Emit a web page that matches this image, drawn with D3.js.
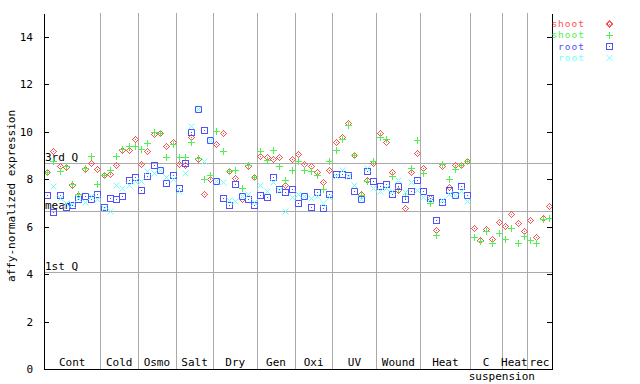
<!DOCTYPE html>
<html>
<head>
<meta charset="utf-8">
<script src="https://cdn.jsdelivr.net/npm/d3@7"></script>
<style>
  body { margin: 0; background: #fff; }
  text { font-family: "DejaVu Sans Mono", monospace; font-size: 11px; }
</style>
</head>
<body>
<div id="chart"></div>
<script>
// sample groups along the x axis and how many time points each holds
var groups = ["Cont", "Cold", "Osmo", "Salt", "Dry", "Gen", "Oxi", "UV", "Wound", "Heat", "C", "Heat", "rec"];
var groupCounts = [9, 6, 6, 6, 7, 6, 6, 7, 7, 8, 5, 4, 4];

var shootA = [8.28, 9.2, 8.57, 8.5, 7.77, 7.35, 8.41, 8.68, 8.44,
  8.16, 8.22, 8.61, 9.24, 9.24, 9.7,
  8.64, 9.2, 9.9, 9.94, 9.38, 9.55,
  8.64, 8.6, 9.76, 8.85, 7.37, 8.0,
  9.48, 9.94, 8.33, 8.05, 7.16, 8.57, 8.1,
  8.96, 8.95, 8.86, 8.95, 7.75, 8.85,
  9.06, 8.64, 8.55, 8.31, 7.88, 8.39,
  9.57, 9.76, 10.37, 9.0, 7.37, 7.96, 8.68,
  9.94, 9.57, 8.3, 7.54, 6.78, 8.3, 9.1,
  8.47, 7.19, 5.87, 8.57, 7.67, 8.61, 8.61, 8.75,
  5.94, 5.45, 5.9, 5.48, 6.19,
  6.03, 6.53, 6.15, 5.81,
  6.28, 5.56, 6.38, 6.87];

var shootB = [8.28, 8.78, 8.33, 8.57, 7.8, 7.39, 8.47, 8.98, 7.8,
  8.16, 8.37, 8.98, 9.28, 9.38, 9.38,
  9.28, 9.52, 9.99, 9.94, 8.93, 9.49,
  8.95, 8.95, 9.55, 8.89, 8.0, 8.17,
  10.01, 9.19, 8.34, 8.39, 7.63, 8.6, 8.1,
  9.19, 8.81, 9.23, 8.55, 7.96, 8.39,
  8.76, 8.39, 8.34, 8.17, 7.59, 8.77,
  9.23, 9.69, 10.28, 9.02, 7.33, 7.93, 8.76,
  9.77, 9.69, 8.13, 7.59, 7.27, 8.48, 9.65,
  8.26, 7.0, 5.65, 8.65, 8.0, 8.43, 8.61, 8.77,
  5.56, 5.39, 5.81, 5.31, 5.73,
  5.48, 5.94, 5.31, 5.6,
  5.44, 5.31, 6.33, 6.38];

var rootA = [7.35, 6.63, 7.35, 6.84, 6.92, 7.18, 7.3, 7.18, 7.39,
  6.84, 7.22, 7.18, 7.27, 7.96, 8.07,
  7.56, 8.15, 8.61, 8.39, 7.85, 8.16,
  7.61, 8.68, 9.99, 10.94, 10.07, 9.63,
  7.91, 7.2, 6.91, 7.8, 7.27, 7.16, 6.91,
  7.33, 7.25, 8.1, 7.59, 7.46, 7.59,
  7.0, 7.29, 6.83, 7.46, 6.78, 7.37,
  8.22, 8.22, 8.16, 7.5, 7.16, 8.34, 7.92,
  7.72, 7.8, 7.37, 7.72, 7.16, 7.5, 7.96,
  7.5, 7.2, 6.28, 7.04, 7.56, 7.33, 7.71, 7.33,
  null, null, null, null, null,
  null, null, null, null,
  null, null, null, null];

var rootB = [null, 7.7, 7.2, 7.0, 6.95, 7.2, 7.05, 7.3, 7.18,
  6.78, 6.67, 7.74, 7.63, 7.74, 7.94,
  7.94, 8.36, 8.24, 8.39, 8.07, 8.0,
  7.48, 8.26, 10.22, 10.94, 8.76, 9.63,
  7.91, 7.88, 7.12, 7.06, 7.3, 7.39, 7.04,
  7.77, 7.48, 7.88, 7.54, 6.66, 7.25,
  7.37, 7.3, 7.2, 7.3, 7.0, 7.25,
  8.13, 8.39, 8.13, 7.74, 7.16, 8.47, 7.63,
  7.48, 7.63, 7.48, 7.96, 7.46, 7.88, 7.54,
  7.25, 7.16, null, 7.12, 7.39, 7.33, 7.5, 7.08,
  null, null, null, null, null,
  null, null, null, null,
  null, null, null, null];

var refLines = [{ label: "3rd Q", value: 8.68 }, { label: "mean", value: 6.66 }, { label: "1st Q", value: 4.09 }];
var yTicks = [0, 2, 4, 6, 8, 10, 12, 14];

var series = [
  { name: "shoot", values: shootA, color: "#ff5050", shape: "diamond" },
  { name: "shoot", values: shootB, color: "#50f050", shape: "plus" },
  { name: "root", values: rootA, color: "#5050ff", shape: "square" },
  { name: "root", values: rootB, color: "#70ffff", shape: "cross" }
];

var width = 640, height = 384;
var plot = { left: 44, right: 552, top: 13, bottom: 369 };
var nCols = d3.sum(groupCounts);

var svg = d3.select("#chart").append("svg")
            .attr("width", width)
            .attr("height", height)
            .attr("shape-rendering", "crispEdges");

var x = d3.scaleLinear().domain([0, nCols]).range([plot.left, plot.right]);
var y = d3.scaleLinear().domain([0, 15]).range([plot.bottom, plot.top]);

// group boundaries
var bounds = [];
var acc = 0;
groupCounts.forEach((c, i) => {
  bounds.push({ name: groups[i], start: acc, end: acc + c });
  acc += c;
});

svg.append("g").selectAll("line")
   .data(bounds.slice(0, -1))
   .enter().append("line")
   .attr("x1", d => Math.round(x(d.end)) + 0.5)
   .attr("x2", d => Math.round(x(d.end)) + 0.5)
   .attr("y1", plot.top)
   .attr("y2", plot.bottom)
   .attr("stroke", "#aaa");

svg.append("g").selectAll("line")
   .data(refLines)
   .enter().append("line")
   .attr("x1", plot.left)
   .attr("x2", plot.right)
   .attr("y1", d => Math.round(y(d.value)) + 0.5)
   .attr("y2", d => Math.round(y(d.value)) + 0.5)
   .attr("stroke", "#aaa");

svg.append("g").selectAll("text")
   .data(refLines)
   .enter().append("text")
   .attr("x", plot.left + 1)
   .attr("y", d => Math.round(y(d.value)) - 2)
   .text(d => d.label);

// markers
function marker(sel, shape, color) {
  if (shape === "diamond") {
    sel.append("path").attr("d", "M0,-3L3,0L0,3L-3,0Z").attr("fill", "none").attr("stroke", color);
    sel.append("rect").attr("x", -0.5).attr("y", -0.5).attr("width", 1).attr("height", 1).attr("fill", color);
  } else if (shape === "plus") {
    sel.append("path").attr("d", "M-3.5,0H3.5M0,-3.5V3.5").attr("stroke", color).attr("stroke-width", 1.2);
  } else if (shape === "square") {
    sel.append("rect").attr("x", -3).attr("y", -3).attr("width", 6).attr("height", 6)
       .attr("fill", "none").attr("stroke", color).attr("stroke-width", 1.3);
    sel.append("rect").attr("x", -0.5).attr("y", -0.5).attr("width", 1).attr("height", 1).attr("fill", color);
  } else {
    sel.append("path").attr("d", "M-3,-3L3,3M-3,3L3,-3").attr("stroke", color)
       .attr("shape-rendering", "auto").attr("stroke-width", 1);
  }
}

series.forEach(s => {
  var pts = s.values.map((v, i) => ({ i: i, v: v })).filter(d => d.v != null);
  svg.append("g").selectAll("g")
     .data(pts)
     .enter().append("g")
     .attr("transform", d => "translate(" + (Math.round(x(d.i + 0.5)) + 0.5) + "," + (Math.round(y(d.v)) + 0.5) + ")")
     .each(function() { marker(d3.select(this), s.shape, s.color); });
});

// axes
var yAxis = d3.axisLeft(y).tickValues(yTicks).tickSizeInner(-5).tickSizeOuter(0).tickPadding(11);
var gy = svg.append("g").attr("transform", "translate(" + plot.left + ",0)").call(yAxis);
gy.selectAll("text").style("font-size", "11px").attr("fill", "#000");

var yAxisR = d3.axisRight(y).tickValues(yTicks).tickSizeInner(-5).tickSizeOuter(0).tickFormat("");
svg.append("g").attr("transform", "translate(" + plot.right + ",0)").call(yAxisR);

svg.append("line")
   .attr("x1", plot.left).attr("x2", plot.right)
   .attr("y1", plot.bottom + 0.5).attr("y2", plot.bottom + 0.5)
   .attr("stroke", "#000");

svg.append("text")
   .attr("transform", "translate(15," + ((plot.top + plot.bottom) / 2 + 5) + ") rotate(-90)")
   .attr("text-anchor", "middle")
   .text("affy-normalized expression");

// group labels
svg.append("g").selectAll("text")
   .data(bounds)
   .enter().append("text")
   .attr("x", d => x((d.start + d.end) / 2))
   .attr("y", plot.bottom - 3)
   .attr("text-anchor", "middle")
   .text(d => d.name);

svg.append("text")
   .attr("x", x(bounds[10].end))
   .attr("y", plot.bottom + 11)
   .attr("text-anchor", "middle")
   .text("suspension");

// legend
var legend = svg.append("g").selectAll("g")
                .data(series)
                .enter().append("g")
                .attr("transform", (d, i) => "translate(0," + (23.5 + i * 11.3) + ")");

legend.append("text")
      .attr("x", 585)
      .attr("y", 3.5)
      .attr("text-anchor", "end")
      .attr("fill", d => d.color)
      .style("font-size", "9.5px")
      .style("letter-spacing", "1px")
      .text(d => d.name);

legend.append("g")
      .attr("transform", "translate(609.5,0.5)")
      .each(function(d) { marker(d3.select(this), d.shape, d.color); });
</script>
</body>
</html>
